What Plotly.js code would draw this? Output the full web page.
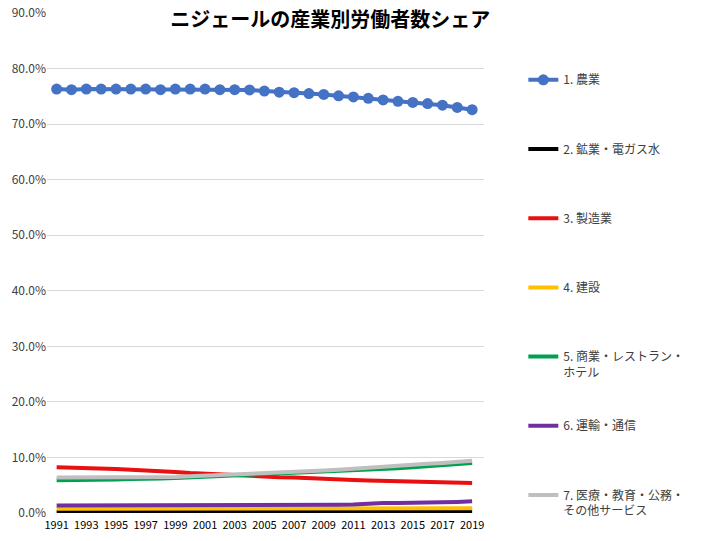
<!DOCTYPE html>
<html>
<head>
<meta charset="utf-8">
<script src="https://cdn.plot.ly/plotly-3.0.1.min.js"></script>
<style>
  body { margin: 0; background: #fff; }
  #chart { width: 707px; height: 541px; }
</style>
</head>
<body>
<div id="chart"></div>
<script>
var years = [1991, 1992, 1993, 1994, 1995, 1996, 1997, 1998, 1999, 2000,
             2001, 2002, 2003, 2004, 2005, 2006, 2007, 2008, 2009, 2010,
             2011, 2012, 2013, 2014, 2015, 2016, 2017, 2018, 2019];

var agriculture = [76.3, 76.2, 76.3, 76.3, 76.3, 76.3, 76.3, 76.2, 76.3, 76.3,
                   76.3, 76.2, 76.2, 76.15, 75.95, 75.75, 75.65, 75.5, 75.35, 75.1,
                   74.9, 74.65, 74.35, 74.1, 73.9, 73.7, 73.4, 73.0, 72.6];
var mining = [0.2, 0.2, 0.2, 0.2, 0.2, 0.2, 0.2, 0.2, 0.2, 0.2,
              0.2, 0.2, 0.2, 0.2, 0.2, 0.2, 0.2, 0.2, 0.2, 0.2,
              0.2, 0.25, 0.25, 0.25, 0.25, 0.25, 0.25, 0.25, 0.25];
var manufacturing = [8.25, 8.2, 8.1, 8.0, 7.9, 7.8, 7.7, 7.55, 7.4, 7.2,
                     7.05, 6.9, 6.75, 6.65, 6.55, 6.45, 6.4, 6.25, 6.1, 6.0,
                     5.95, 5.85, 5.8, 5.7, 5.6, 5.5, 5.45, 5.4, 5.4];
var construction = [0.75, 0.75, 0.75, 0.75, 0.75, 0.75, 0.75, 0.75, 0.75, 0.75,
                    0.75, 0.75, 0.75, 0.75, 0.75, 0.75, 0.75, 0.75, 0.75, 0.75,
                    0.8, 0.85, 0.85, 0.85, 0.85, 0.85, 0.85, 0.85, 0.85];
var commerce = [5.9, 5.9, 5.95, 6.0, 6.05, 6.1, 6.1, 6.2, 6.3, 6.45,
                6.6, 6.7, 6.8, 6.9, 7.0, 7.1, 7.2, 7.3, 7.4, 7.5,
                7.65, 7.75, 7.9, 8.05, 8.25, 8.4, 8.6, 8.8, 9.0];
var transport = [1.35, 1.35, 1.35, 1.35, 1.35, 1.35, 1.35, 1.35, 1.35, 1.35,
                 1.35, 1.35, 1.35, 1.35, 1.35, 1.5, 1.5, 1.5, 1.5, 1.5,
                 1.55, 1.7, 1.8, 1.8, 1.9, 1.9, 1.95, 2.0, 2.1];
var services = [6.4, 6.4, 6.4, 6.4, 6.4, 6.4, 6.45, 6.5, 6.5, 6.6,
                6.7, 6.8, 6.9, 7.0, 7.15, 7.3, 7.4, 7.5, 7.65, 7.8,
                8.0, 8.15, 8.3, 8.5, 8.7, 8.85, 9.0, 9.2, 9.4];

var names = ['1. 農業', '2. 鉱業・電ガス水', '3. 製造業', '4. 建設',
             '5. 商業・レストラン・<br>ホテル', '6. 運輸・通信',
             '7. 医療・教育・公務・<br>その他サービス'];
var series = [agriculture, mining, manufacturing, construction, commerce, transport, services];
var colors = ['#4472C4', '#000000', '#E81010', '#FFC000', '#00A050', '#7030A0', '#BFBFBF'];

var data = series.map(function (vals, i) {
  // one-line names get an empty second line so every legend entry has the same height
  var label = names[i].indexOf('<br>') < 0 ? names[i] + '<br> ' : names[i];
  return {
    x: years,
    y: vals,
    name: label,
    legendgroup: 'g' + i,
    type: 'scatter',
    mode: i === 0 ? 'lines+markers' : 'lines',
    line: { color: colors[i], width: 4 },
    marker: { color: colors[i], size: 11 },
    hoverinfo: 'skip'
  };
});

var layout = {
  width: 707,
  height: 541,
  margin: { l: 47, r: 223, t: 13, b: 28 },
  paper_bgcolor: '#ffffff',
  plot_bgcolor: '#ffffff',
  font: { family: '"Noto Sans CJK JP", "Noto Sans", sans-serif', color: '#404040', size: 12 },
  title: {
    text: '<b>ニジェールの産業別労働者数シェア</b>',
    font: { size: 20, color: '#000000' },
    x: 0.467,
    xanchor: 'center',
    y: 0.963,
    yanchor: 'middle'
  },
  xaxis: {
    range: [1990.35, 2019.8],
    tickmode: 'array',
    tickvals: years.filter(function (y, i) { return i % 2 === 0; }),
    showgrid: false,
    zeroline: false,
    showline: false,
    ticks: '',
    ticklabelstandoff: 4,
    tickfont: { size: 11, color: '#000000' }
  },
  yaxis: {
    range: [0, 90],
    dtick: 10,
    tickformat: '.1f',
    ticksuffix: '%',
    gridcolor: '#d9d9d9',
    gridwidth: 1,
    zeroline: false,
    showline: false,
    tickfont: { size: 12, color: '#404040' }
  },
  showlegend: true,
  legend: {
    x: 1.09,
    xanchor: 'left',
    y: 0.895,
    yanchor: 'top',
    valign: 'top',
    tracegroupgap: 35,
    itemwidth: 30,
    font: { size: 12, color: '#404040' }
  }
};

Plotly.newPlot('chart', data, layout, { displayModeBar: false, staticPlot: true });
</script>
</body>
</html>
